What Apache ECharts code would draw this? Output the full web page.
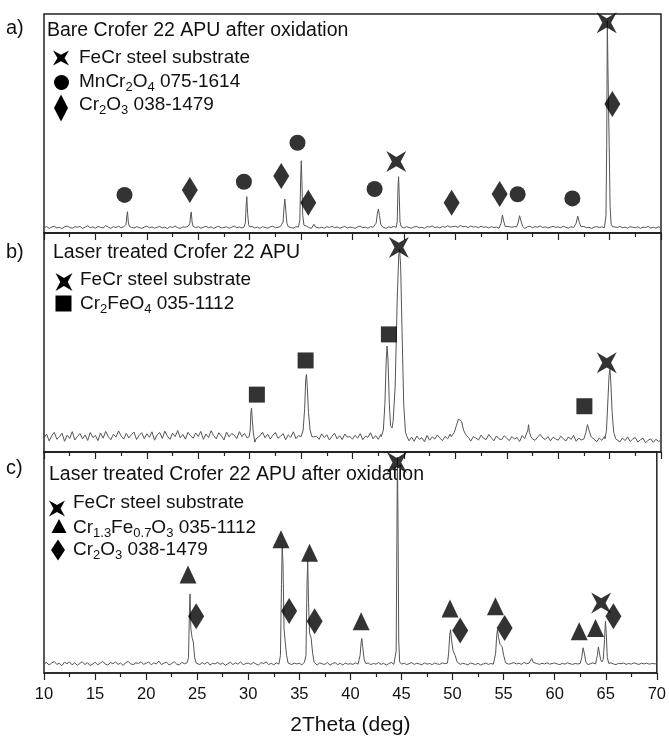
<!DOCTYPE html>
<html>
<head>
<meta charset="utf-8">
<script src="https://cdn.jsdelivr.net/npm/echarts@6/dist/echarts.min.js"></script>
<style>
  html, body { margin: 0; padding: 0; background: #fff; }
  #main { width: 669px; height: 738px; }
</style>
</head>
<body>
<div id="main"></div>
<script>
// 2theta range, baseline sampled every 0.25 deg from 10 to 70
const thetaMin = 10, thetaMax = 70, baseStep = 0.25;
const thetaTicks = [10, 15, 20, 25, 30, 35, 40, 45, 50, 55, 60, 65, 70];

// a) bare Crofer 22 APU after oxidation
const baseA = [
  2.4,2.9,2.1,2.7,3.1,2.3,2.6,2.0,2.8,3.2,2.5,2.2,2.9,2.6,3.0,2.1,2.7,3.3,2.4,2.8,
  2.2,3.0,2.6,2.3,3.4,2.7,2.1,2.9,2.5,3.1,2.4,2.8,2.2,3.0,2.6,2.3,2.9,2.5,2.1,2.7,
  3.1,2.4,2.8,2.2,2.6,3.0,2.3,2.7,2.0,2.9,2.5,3.2,2.4,2.1,2.8,2.6,3.0,2.3,2.7,2.4,
  2.9,2.2,2.6,3.1,2.4,2.8,2.1,2.7,3.0,2.3,2.5,2.9,2.2,2.6,3.2,2.4,2.8,2.3,2.7,2.5,
  2.6,3.0,2.3,2.7,2.1,2.9,2.5,2.2,2.8,3.1,2.4,2.6,3.0,2.3,2.7,3.3,2.5,2.2,2.9,2.6,
  2.4,2.8,3.2,2.5,2.1,2.7,3.0,2.3,2.6,2.2,2.9,2.5,3.1,2.4,2.8,2.2,2.6,3.0,2.3,2.7,
  2.5,2.1,2.8,3.1,2.4,2.7,2.2,2.9,2.6,3.0,2.3,2.7,2.4,2.1,2.8,2.5,3.0,2.4,2.2,2.7,
  2.3,2.9,2.5,2.2,2.8,3.0,2.4,2.6,2.1,2.9,2.7,3.2,2.5,2.8,2.3,3.0,2.6,3.3,2.7,2.9,
  3.1,2.6,3.4,2.8,3.0,2.5,3.2,2.7,2.9,2.4,3.1,2.6,2.8,2.3,2.9,2.5,2.7,2.2,2.8,2.6,
  2.4,2.9,2.6,3.0,2.3,2.7,2.5,2.1,2.8,3.1,2.4,2.9,2.6,3.2,2.5,2.8,2.3,2.7,3.0,2.6,
  2.8,2.4,3.1,2.6,2.2,2.9,2.5,2.8,2.3,2.7,3.0,2.4,2.6,2.1,2.7,2.9,2.5,2.8,2.4,2.7,
  2.6,2.3,2.8,2.5,3.0,2.4,2.7,2.2,2.9,2.6,2.4,2.8,2.1,2.7,2.5,3.0,2.3,2.6,2.2,2.8,
  2.5
];
const peaksA = [
  [[17.85,2.7],[17.98,4.0],[18.06,8.0],[18.12,9.7],[18.2,5.0],[18.3,3.0],[18.42,2.5]],
  [[24.05,2.6],[24.18,4.2],[24.26,8.5],[24.32,9.6],[24.4,5.0],[24.5,3.1],[24.62,2.6]],
  [[29.45,2.7],[29.58,4.5],[29.65,12],[29.72,16.6],[29.8,9],[29.9,3.8],[30.02,2.8]],
  [[33.1,2.8],[33.25,5],[33.33,11],[33.42,15.5],[33.52,10],[33.62,4.5],[33.75,2.9]],
  [[34.75,2.7],[34.88,6],[34.96,25],[35.02,33],[35.08,24],[35.16,8],[35.28,3.5],[35.4,2.8]],
  [[36.1,2.6],[36.25,4.0],[36.4,2.7]],
  [[42.1,2.7],[42.3,4.5],[42.42,9],[42.52,11],[42.62,8],[42.75,4],[42.92,2.8]],
  [[44.25,2.6],[44.35,5],[44.42,20],[44.48,25.7],[44.54,18],[44.62,5],[44.75,2.8]],
  [[54.3,2.8],[54.45,4.5],[54.58,8.2],[54.7,5.5],[54.85,3]],
  [[55.95,2.7],[56.1,4.5],[56.25,7.9],[56.38,5.5],[56.55,3]],
  [[61.6,2.7],[61.75,4.5],[61.9,7.7],[62.05,5],[62.2,3]],
  [[64.55,3],[64.65,8],[64.72,40],[64.78,97],[64.84,75],[64.9,58],[64.96,40],[65.05,12],[65.15,4],[65.3,2.8]]
];
const fecrA = [[44.26,32.6],[64.72,96]];
const mnCrA = [[17.83,17.4],[29.44,23.4],[34.65,41.2],[42.15,20.1],[56.06,17.7],[61.38,15.8]];
const cr2o3A = [[24.18,19.6],[33.07,26],[35.7,13.8],[49.64,13.8],[54.31,17.8],[65.27,58.9]];

// b) laser treated Crofer 22 APU
const baseB = [
  6.5,8.2,5.1,7.4,9.0,5.8,6.9,8.6,4.9,7.7,6.2,9.3,5.5,7.1,8.4,6.0,7.8,5.3,8.9,6.6,
  7.5,5.2,8.7,6.3,9.4,7.0,5.6,8.1,6.8,9.6,7.3,5.9,8.5,6.4,7.9,9.1,5.7,7.6,8.8,6.1,
  8.3,6.7,9.2,5.4,7.8,8.9,6.2,9.5,7.2,5.8,8.6,7.0,9.8,6.5,8.0,5.9,9.0,7.4,6.3,8.7,
  7.1,9.4,5.8,8.2,6.6,9.7,7.5,6.0,8.8,7.3,5.5,9.1,6.9,8.4,7.7,6.1,9.3,7.0,8.5,6.4,
  7.9,6.2,8.6,5.7,7.4,9.0,6.5,8.1,5.9,7.6,8.9,6.3,7.2,8.4,5.6,7.8,6.7,9.2,6.1,7.5,
  8.0,6.4,7.7,5.3,8.5,6.9,7.2,5.8,8.3,6.6,7.9,5.5,7.1,8.6,6.0,7.4,5.7,8.2,6.8,7.0,
  5.9,7.6,6.3,8.4,5.6,7.2,6.7,8.8,6.1,7.5,5.8,8.0,6.5,7.3,9.0,6.8,7.4,6.2,8.1,7.0,
  6.2,7.0,5.1,6.8,4.9,7.3,5.8,6.5,4.7,7.6,5.4,6.9,5.9,7.8,6.3,5.2,7.1,6.0,8.2,6.6,
  7.2,5.8,6.9,5.3,7.5,6.1,5.0,7.0,6.4,5.5,7.7,6.2,5.7,8.0,6.5,5.1,7.3,6.0,5.6,7.4,
  6.3,5.2,7.1,5.9,6.6,4.8,7.5,6.2,5.5,7.8,6.0,5.3,6.8,8.1,6.4,5.7,7.0,5.1,6.7,6.0,
  5.4,7.2,6.1,5.0,6.9,5.7,7.6,4.9,6.3,5.5,7.0,6.0,5.2,6.6,5.8,4.7,6.4,5.3,7.1,5.9,
  6.2,5.0,6.8,5.5,4.6,6.4,5.2,6.9,4.8,5.9,6.6,4.5,5.6,6.3,4.2,5.4,6.0,4.4,5.8,4.9,
  5.2
];
const peaksB = [
  [[29.95,7],[30.05,10],[30.12,18],[30.18,20.1],[30.25,15],[30.35,9],[30.5,4.5],[30.62,6]],
  [[35.0,7],[35.2,10],[35.35,20],[35.45,33],[35.52,35.4],[35.6,30],[35.72,18],[35.88,10],[36.05,7]],
  [[42.8,7],[43.0,10],[43.15,22],[43.28,42],[43.36,48.4],[43.45,42],[43.58,22],[43.7,12],[43.85,11],
   [43.95,14],[44.15,30],[44.35,70],[44.5,90],[44.58,92.6],[44.68,85],[44.82,55],[44.98,22],[45.15,9],[45.3,7]],
  [[49.6,7],[49.9,9],[50.1,12],[50.3,15],[50.45,15.9],[50.6,14],[50.8,10],[51.0,8],[51.3,6.5]],
  [[56.9,7],[57.05,10],[57.12,12.5],[57.2,9],[57.35,7]],
  [[62.5,6],[62.7,9],[62.85,12.5],[63.0,10],[63.2,7]],
  [[64.55,6],[64.7,10],[64.85,25],[64.95,35],[65.03,37.7],[65.12,32],[65.25,18],[65.4,9],[65.6,6]]
];
const fecrB = [[44.51,93.4],[64.72,40.7]];
const cr2feo4B = [[30.7,26.2],[35.44,41.8],[43.54,53.7],[62.55,20.9]];

// c) laser treated Crofer 22 APU after oxidation
const baseC = [
  4.1,4.8,3.6,4.5,5.2,3.9,4.4,3.3,4.9,4.2,5.0,3.7,4.6,3.5,4.3,5.1,3.8,4.7,3.4,4.0,
  4.9,3.7,4.4,5.3,4.0,3.6,4.8,4.2,5.0,3.9,4.5,3.4,4.7,5.2,4.1,3.8,4.6,4.3,5.1,3.9,
  4.4,5.0,3.7,4.6,4.1,5.4,3.8,4.5,4.9,3.6,4.3,5.1,4.0,3.7,4.8,4.2,4.6,3.9,4.4,4.1,
  4.3,3.8,4.7,4.0,5.0,3.6,4.4,4.1,4.8,3.9,4.5,3.5,4.2,4.9,3.8,4.6,4.0,5.1,3.7,4.3,
  4.5,3.9,4.8,4.1,3.6,4.7,4.3,5.0,3.8,4.4,3.7,4.6,4.0,4.9,3.9,4.2,4.7,3.8,4.5,4.1,
  4.4,3.7,4.9,4.2,3.8,4.5,4.0,3.6,4.6,4.1,3.9,4.8,3.5,4.3,4.7,3.8,4.4,3.6,4.5,4.0,
  4.2,3.9,4.6,4.0,4.4,3.7,4.1,4.5,3.8,4.3,4.0,4.7,3.9,4.4,3.6,4.2,4.8,3.9,4.3,4.1,
  4.0,4.5,3.8,4.2,4.7,3.9,4.4,4.1,3.7,4.6,4.0,4.3,3.8,4.5,4.1,3.9,4.6,4.2,4.4,3.8,
  4.3,4.0,4.6,3.9,4.4,4.1,3.7,4.5,4.2,3.8,4.4,3.6,4.1,4.5,3.9,4.3,4.0,4.6,4.2,4.4,
  4.1,4.5,4.0,4.3,4.7,4.1,4.4,3.9,4.8,4.2,4.5,4.0,4.6,4.3,3.9,4.4,4.1,4.6,4.0,4.3,
  4.5,4.1,3.8,4.4,4.0,4.6,4.2,3.9,4.3,4.1,4.5,4.0,4.4,3.8,4.2,4.6,4.1,4.3,3.9,4.4,
  4.0,4.3,4.6,4.1,3.8,4.4,4.2,4.5,3.9,4.3,4.0,4.6,4.2,3.9,4.4,4.1,4.5,4.0,4.3,4.2,
  4.1
];
const peaksC = [
  [[24.05,4.5],[24.15,7],[24.24,28],[24.3,35.8],[24.38,20],[24.5,16],[24.62,14],[24.75,7],[24.9,4.5]],
  [[33.05,4.5],[33.15,8],[33.25,40],[33.32,56.7],[33.4,50],[33.5,20],[33.62,14],[33.75,8],[33.9,4.5]],
  [[35.55,4.5],[35.65,8],[35.75,40],[35.82,50.7],[35.9,32],[36.0,18],[36.15,16],[36.3,9],[36.45,4.8]],
  [[40.8,4.5],[40.95,8],[41.05,14],[41.12,15.6],[41.2,12],[41.35,6],[41.5,4.3]],
  [[44.4,4.5],[44.48,10],[44.55,60],[44.6,97.7],[44.66,70],[44.73,15],[44.82,5]],
  [[49.5,4.5],[49.62,9],[49.72,17],[49.8,19.6],[49.9,15],[50.05,10],[50.25,8],[50.45,5],[50.6,4.4]],
  [[54.1,4.5],[54.22,9],[54.32,17],[54.4,19.6],[54.5,16],[54.65,13],[54.85,12],[55.0,8],[55.2,4.6]],
  [[57.6,4.5],[57.75,6.5],[57.9,4.8]],
  [[62.5,4.3],[62.65,7],[62.78,11.4],[62.9,9],[63.05,5],[63.2,4.2]],
  [[64.05,4.5],[64.18,8],[64.28,11.8],[64.38,9],[64.5,6],[64.62,5],[64.75,6],[64.88,15],[64.97,23.5],[65.05,18],[65.15,7],[65.3,4.3]]
];
const fecrC = [[44.55,95.2],[64.55,31.7]];
const cr13C = [[24.1,44.6],[33.2,60.5],[36.0,54.4],[41.05,23.4],[49.75,29.2],[54.2,30.2],[62.4,18.9],[64.0,20.4]];
const cr2o3C = [[24.9,25.7],[34.0,28],[36.5,23.4],[50.75,19.2],[55.1,20.4],[65.75,25.7]];

// merge baseline with the hand-read peak profiles
function buildTrace(base, peaks) {
  const pts = [];
  base.forEach((v, i) => {
    const x = thetaMin + i * baseStep;
    const inPeak = peaks.some(p => x >= p[0][0] && x <= p[p.length - 1][0]);
    if (!inPeak) pts.push([x, v]);
  });
  peaks.forEach(p => p.forEach(q => pts.push(q)));
  pts.sort((a, b) => a[0] - b[0]);
  return pts;
}

const FONT = "'Liberation Sans', Arial, sans-serif";
// bold four-pointed cross used for the FeCr substrate reflections
const crossPath = 'path://M0,0 L10,5.6 L20,0 L14.4,10 L20,20 L10,14.4 L0,20 L5.6,10 Z';

const grids = [
  { left: 44, right: 8, top: 14, height: 219 },
  { left: 44, right: 8, top: 233, height: 219 },
  { left: 44, right: 8, top: 452, height: 221 }
].map(g => Object.assign(g, { show: true, borderColor: '#222', borderWidth: 1.5 }));

function xAxisFor(i) {
  const last = i === 2;
  return {
    type: 'value', gridIndex: i, min: thetaMin, max: thetaMax, interval: 5,
    axisLine: { show: true, lineStyle: { color: '#222', width: 1.5 } },
    axisTick: { show: true, inside: false, length: 7, lineStyle: { color: '#222', width: 1.2 } },
    minorTick: { show: true, splitNumber: 2, length: 4, lineStyle: { color: '#222', width: 1.2 } },
    splitLine: { show: false },
    axisLabel: {
      show: last, margin: 13, fontSize: 16.5, color: '#111', fontFamily: FONT,
      formatter: v => thetaTicks.includes(v) ? String(v) : ''
    },
    name: last ? '2Theta (deg)' : '',
    nameLocation: 'middle', nameGap: 42,
    nameTextStyle: { fontSize: 21, color: '#111', fontFamily: FONT }
  };
}

function yAxisFor(i) {
  return {
    type: 'value', gridIndex: i, min: 0, max: 100,
    axisLine: { show: false }, axisTick: { show: false },
    axisLabel: { show: false }, splitLine: { show: false }
  };
}

function traceSeries(i, data) {
  return {
    type: 'line', xAxisIndex: i, yAxisIndex: i, data: data,
    showSymbol: false, symbol: 'none', silent: true,
    lineStyle: { color: '#555', width: 1 }, z: 2
  };
}

function markSeries(i, name, data, symbol, size) {
  return {
    type: 'scatter', name: name, xAxisIndex: i, yAxisIndex: i, data: data,
    symbol: symbol, symbolSize: size, symbolKeepAspect: false, clip: false,
    itemStyle: { color: '#000' }, z: 5
  };
}

const series = [
  traceSeries(0, buildTrace(baseA, peaksA)),
  markSeries(0, 'FeCr steel substrate', fecrA, crossPath, [20, 21]),
  markSeries(0, 'MnCr2O4 075-1614', mnCrA, 'circle', 16),
  markSeries(0, 'Cr2O3 038-1479', cr2o3A, 'diamond', [16, 26]),
  traceSeries(1, buildTrace(baseB, peaksB)),
  markSeries(1, 'FeCr steel substrate', fecrB, crossPath, [20, 21]),
  markSeries(1, 'Cr2FeO4 035-1112', cr2feo4B, 'rect', 16),
  traceSeries(2, buildTrace(baseC, peaksC)),
  markSeries(2, 'FeCr steel substrate', fecrC, crossPath, [20, 21]),
  markSeries(2, 'Cr1.3Fe0.7O3 035-1112', cr13C, 'triangle', [17, 18]),
  markSeries(2, 'Cr2O3 038-1479', cr2o3C, 'diamond', [16, 26])
];

// legend / label drawings
const rich = { s: { fontSize: 13, fontFamily: FONT, padding: [10, 0, 0, 0], fill: '#111' } };
function txt(x, y, text, size) {
  return {
    type: 'text', x: x, y: y, silent: true,
    style: { text: text, font: (size || 19) + 'px ' + FONT, fill: '#111', verticalAlign: 'middle', rich: rich }
  };
}
function crossIcon(cx, cy, w, h) {
  return {
    type: 'polygon', silent: true,
    shape: { points: [[cx - w/2, cy - h/2], [cx, cy - h*0.22], [cx + w/2, cy - h/2], [cx + w*0.22, cy],
      [cx + w/2, cy + h/2], [cx, cy + h*0.22], [cx - w/2, cy + h/2], [cx - w*0.22, cy]] },
    style: { fill: '#000' }
  };
}
function diamondIcon(cx, cy, w, h) {
  return { type: 'polygon', silent: true,
    shape: { points: [[cx, cy - h/2], [cx + w/2, cy], [cx, cy + h/2], [cx - w/2, cy]] }, style: { fill: '#000' } };
}
function triangleIcon(cx, cy, w, h) {
  return { type: 'polygon', silent: true,
    shape: { points: [[cx, cy - h/2], [cx + w/2, cy + h/2], [cx - w/2, cy + h/2]] }, style: { fill: '#000' } };
}
function circleIcon(cx, cy, r) {
  return { type: 'circle', silent: true, shape: { cx: cx, cy: cy, r: r }, style: { fill: '#000' } };
}
function squareIcon(cx, cy, s) {
  return { type: 'rect', silent: true, shape: { x: cx - s/2, y: cy - s/2, width: s, height: s }, style: { fill: '#000' } };
}

const graphics = [
  txt(6, 28, 'a)', 20), txt(6, 252, 'b)', 20), txt(6, 468, 'c)', 20),
  // panel a
  txt(47, 30.5, 'Bare Crofer 22 APU after oxidation', 19.5),
  crossIcon(61, 58, 16, 15), txt(79, 58, 'FeCr steel substrate'),
  circleIcon(61.5, 82.5, 7.5), txt(79, 82, 'MnCr{s|2}O{s|4} 075-1614'),
  diamondIcon(61, 108, 14, 27), txt(79, 105, 'Cr{s|2}O{s|3} 038-1479'),
  // panel b
  txt(53, 253, 'Laser treated Crofer 22 APU', 19.5),
  crossIcon(64, 282, 17, 18), txt(80, 280, 'FeCr steel substrate'),
  squareIcon(63.5, 303.5, 16), txt(80, 304, 'Cr{s|2}FeO{s|4} 035-1112'),
  // panel c
  txt(49, 474.5, 'Laser treated Crofer 22 APU after oxidation', 19.5),
  crossIcon(57, 508.5, 16, 16), txt(73, 503, 'FeCr steel substrate'),
  triangleIcon(59, 526, 15, 14), txt(73, 528, 'Cr{s|1.3}Fe{s|0.7}O{s|3} 035-1112'),
  diamondIcon(58, 550, 14, 21), txt(73, 550, 'Cr{s|2}O{s|3} 038-1479')
];

const chart = echarts.init(document.getElementById('main'), null, { renderer: 'canvas' });
chart.setOption({
  backgroundColor: '#ffffff',
  animation: false,
  grid: grids,
  xAxis: [0, 1, 2].map(xAxisFor),
  yAxis: [0, 1, 2].map(yAxisFor),
  series: series,
  graphic: graphics
});
</script>
</body>
</html>
